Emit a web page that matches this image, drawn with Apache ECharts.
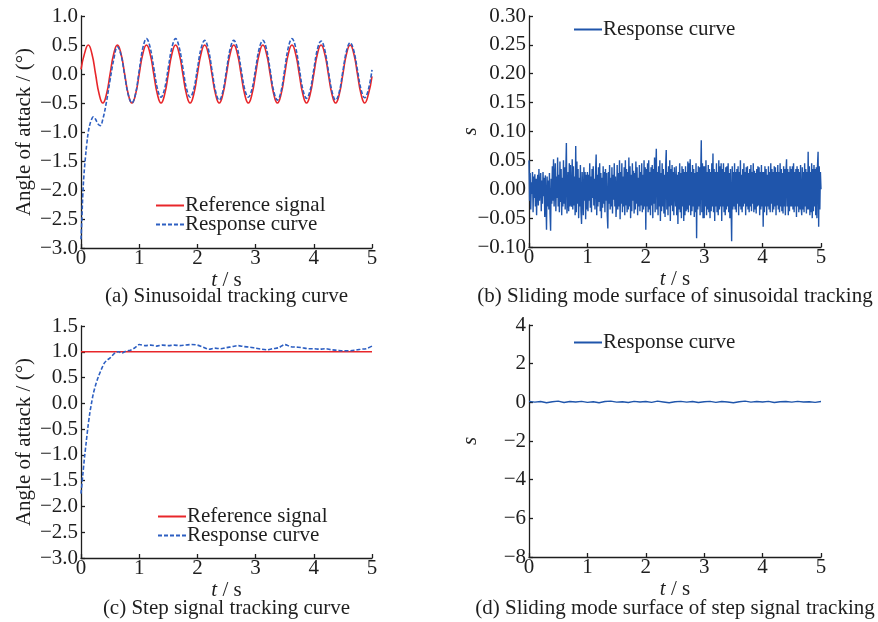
<!DOCTYPE html>
<html>
<head>
<meta charset="utf-8">
<script src="https://cdn.jsdelivr.net/npm/echarts@6/dist/echarts.min.js"></script>
<style>
  html, body { margin: 0; padding: 0; background: #fff; }
  #chart { width: 878px; height: 622px; }
</style>
</head>
<body>
<div id="chart"></div>
<script>
// ---- tick labels and captions ----
const xTicks = [0, 1, 2, 3, 4, 5];
const captions = [
  '(a) Sinusoidal tracking curve',
  '(b) Sliding mode surface of sinusoidal tracking',
  '(c) Step signal tracking curve',
  '(d) Sliding mode surface of step signal tracking'
];

// ---- (a) sinusoidal tracking: reference, sampled every 1/16 s ----
const sinRefStep = 0.0625;
const sinRef = [
  0.08, 0.36, 0.5, 0.35, 0, -0.35, -0.5, -0.35,
  0, 0.35, 0.5, 0.35, 0, -0.35, -0.5, -0.35,
  0, 0.35, 0.5, 0.35, 0, -0.35, -0.5, -0.35,
  0, 0.35, 0.5, 0.35, 0, -0.35, -0.5, -0.35,
  0, 0.35, 0.5, 0.35, 0, -0.35, -0.5, -0.35,
  0, 0.35, 0.5, 0.35, 0, -0.35, -0.5, -0.35,
  0, 0.35, 0.5, 0.35, 0, -0.35, -0.5, -0.35,
  0, 0.35, 0.5, 0.35, 0, -0.35, -0.5, -0.35,
  0, 0.35, 0.5, 0.35, 0, -0.35, -0.5, -0.35,
  0, 0.35, 0.5, 0.35, 0, -0.35, -0.5, -0.35,
  -0.04
];

// ---- (a) sinusoidal tracking: response ----
const sinRespT = [
  0, 0.015, 0.03, 0.05, 0.075, 0.1, 0.125, 0.15, 0.175, 0.21, 0.25, 0.29, 0.33, 0.375,
  0.4375, 0.5, 0.5625, 0.625, 0.6875, 0.75, 0.8125, 0.875, 0.9375,
  1.0, 1.0625, 1.125, 1.1875, 1.25, 1.3125, 1.375, 1.4375,
  1.5, 1.5625, 1.625, 1.6875, 1.75, 1.8125, 1.875, 1.9375,
  2.0, 2.0625, 2.125, 2.1875, 2.25, 2.3125, 2.375, 2.4375,
  2.5, 2.5625, 2.625, 2.6875, 2.75, 2.8125, 2.875, 2.9375,
  3.0, 3.0625, 3.125, 3.1875, 3.25, 3.3125, 3.375, 3.4375,
  3.5, 3.5625, 3.625, 3.6875, 3.75, 3.8125, 3.875, 3.9375,
  4.0, 4.0625, 4.125, 4.1875, 4.25, 4.3125, 4.375, 4.4375,
  4.5, 4.5625, 4.625, 4.6875, 4.75, 4.8125, 4.875, 4.9375, 5.0
];
const sinResp = [
  -2.85, -2.5, -2.1, -1.75, -1.45, -1.2, -1.0, -0.88, -0.8, -0.74, -0.78, -0.86, -0.89, -0.78,
  -0.48, -0.1, 0.25, 0.47, 0.33, -0.02, -0.36, -0.5, -0.34,
  0.06, 0.45, 0.61, 0.46, 0.11, -0.25, -0.40, -0.25,
  0.11, 0.46, 0.61, 0.46, 0.11, -0.25, -0.40, -0.26,
  0.09, 0.44, 0.58, 0.43, 0.07, -0.30, -0.45, -0.30,
  0.07, 0.43, 0.58, 0.44, 0.09, -0.26, -0.40, -0.26,
  0.09, 0.44, 0.58, 0.43, 0.07, -0.30, -0.45, -0.30,
  0.08, 0.46, 0.61, 0.46, 0.10, -0.27, -0.42, -0.28,
  0.08, 0.43, 0.57, 0.42, 0.06, -0.30, -0.45, -0.31,
  0.05, 0.40, 0.54, 0.40, 0.07, -0.27, -0.41, -0.27, 0.07
];

// ---- (b) sliding surface during sinusoidal tracking ----
// values in thousandths, one sample every 0.01 s
const sinSlideStep = 0.01;
const sinSlideUnit = 0.001;
const sinSlide = [
  50,-20,28,-35,12,-8,30,-40,22,-15, 26,-30,18,-45,10,25,-28,35,-20,5,
  28,-38,15,-25,30,-12,20,-48,24,-18, -70,22,-30,15,-35,28,-42,-72,18,-25,
  40,-20,52,-30,15,45,-38,22,-15,55,
  -30,25,-40,48,-22,35,-45,20,-30,50, -25,38,-35,28,80,-42,-20,30,-38,45,
  -30,42,-25,-30,52,-35,40,-28,22,-45, 75,-40,48,-25,35,-50,20,-30,42,-38,
  -60,30,28,-45,38,-20,30,-52,25,-35,
  30,-38,25,-20,45,-32,22,-40,35,-15, 40,-28,18,-35,30,60,-45,25,-30,38,
  -22,45,-38,28,-50,20,-32,40,-25,30, -40,35,-20,28,-45,-68,30,-25,42,-35,
  20,-30,38,-42,25,-18,45,-30,22,-48,
  -20,42,-35,28,-30,50,-52,30,-25,45, -40,22,-30,38,-45,50,-28,35,-40,30,
  -35,55,-30,40,-50,25,-38,45,-20,32, -42,28,-35,48,-25,38,-45,20,-30,42,
  -38,30,-28,45,-40,25,-35,50,-30,38,
  -70,35,-30,45,-40,50,-35,30,-45,38, -28,42,-50,35,-25,55,-40,30,70,-35,
  30,-45,40,-30,50,-55,28,-38,45,-30, 35,-42,25,-48,40,68,-35,30,-45,40,
  -30,50,-55,35,-28,42,-38,30,-45,38,
  35,-30,40,-45,25,-60,30,-35,45,-40, 28,-50,40,-30,35,-55,30,-45,40,-38,
  30,-35,48,-40,45,-28,52,-45,30,-38, 42,-30,35,-48,28,-40,45,-85,30,-35,
  40,-30,38,-45,25,85,-40,45,-50,40,
  -50,40,-30,50,-45,30,-35,42,-40,35, -50,30,-38,45,-30,62,-40,35,-55,30,
  -30,45,-40,30,-45,50,-35,40,-30,45, -55,35,-30,45,-40,30,-45,38,-35,40,
  -30,45,-40,28,-50,35,-30,-90,40,-35,
  30,-30,45,-35,30,-40,35,-25,40,-45, 30,-30,50,-35,25,-40,35,-30,45,-25,
  30,-45,38,-30,40,-35,28,-40,35,-30, 42,-38,30,-25,45,-40,32,-35,28,-42,
  35,-30,40,-28,38,-45,30,-35,42,-30,
  30,-65,30,-40,40,-30,35,-45,25,-30, 40,-35,30,-40,45,-25,35,-40,30,-35,
  40,-30,38,-45,30,-28,42,-35,30,-40, 45,-30,35,-38,28,-42,40,-30,35,-45,
  30,52,-30,35,-45,30,-38,40,-30,35,
  -30,40,-35,45,-40,30,-30,35,-48,40, -30,35,-40,30,-35,42,-30,-45,38,-35,
  30,-40,45,-30,35,-42,30,-35,65,-35, 40,-45,30,-40,45,-50,35,-38,42,-30,
  35,-45,38,-50,40,65,-65,40,-35,30,
  0
];

// ---- (c) step tracking ----
const stepRefT = [0, 5];
const stepRef = [1.0, 1.0];
const stepRespT = [
  0, 0.03, 0.06, 0.09, 0.12, 0.15, 0.18, 0.21, 0.25, 0.3, 0.35, 0.4, 0.45, 0.5, 0.55,
  0.6, 0.65, 0.7, 0.75, 0.8, 0.85, 0.9, 0.95,
  1.0, 1.1, 1.2, 1.3, 1.4, 1.5, 1.6, 1.7, 1.8, 1.9,
  2.0, 2.1, 2.2, 2.3, 2.4, 2.5, 2.6, 2.7, 2.8, 2.9,
  3.0, 3.1, 3.2, 3.3, 3.4, 3.5, 3.6, 3.7, 3.8, 3.9,
  4.0, 4.1, 4.2, 4.3, 4.4, 4.5, 4.6, 4.7, 4.8, 4.9, 5.0
];
const stepResp = [
  -1.75, -1.4, -1.05, -0.75, -0.45, -0.2, 0.0, 0.18, 0.35, 0.52, 0.66, 0.78, 0.84, 0.88, 0.94,
  0.99, 1.0, 0.97, 1.0, 1.02, 1.03, 1.06, 1.1,
  1.14, 1.12, 1.13, 1.11, 1.13, 1.12, 1.13, 1.12, 1.13, 1.14,
  1.13, 1.09, 1.05, 1.07, 1.06, 1.08, 1.10, 1.12, 1.10, 1.09,
  1.07, 1.05, 1.04, 1.06, 1.08, 1.14, 1.10, 1.09, 1.08, 1.06,
  1.06, 1.05, 1.06, 1.04, 1.03, 1.02, 1.02, 1.03, 1.05, 1.06, 1.11
];

// ---- (d) sliding surface during step tracking, every 0.1 s ----
const stepSlideStep = 0.1;
const stepSlide = [
  0.05, 0.01, 0.04, -0.02, 0.03, 0.06, -0.01, 0.04, 0.02, 0.05,
  0.0, 0.03, -0.02, 0.04, 0.06, 0.01, 0.03, -0.01, 0.05, 0.02,
  0.04, 0.0, 0.06, 0.02, -0.02, 0.03, 0.05, 0.01, 0.04, -0.01,
  0.03, 0.05, 0.0, 0.04, 0.02, -0.02, 0.03, 0.06, 0.01, 0.04,
  0.02, 0.05, -0.01, 0.03, 0.04, 0.01, 0.05, 0.02, 0.03, 0.0, 0.04
];

// ---- styling ----
const FONT = '"Liberation Serif", "Times New Roman", serif';
const FS = 21;
const INK = '#1e1e1e';
const RED = '#e8262a';
const BLUE_DASH = '#2d5fc2';
const BLUE = '#1f55ab';
const CLEAR = 'rgba(0,0,0,0)';

const grids = [
  { left: 81, top: 16, width: 291, height: 232 },
  { left: 529, top: 16, width: 292, height: 231 },
  { left: 81, top: 326, width: 291, height: 232 },
  { left: 529, top: 325, width: 292, height: 232 }
];

const minus = s => String(s).replace('-', '\u2212');

function xAxisFor(i) {
  return {
    type: 'value', gridIndex: i, min: xTicks[0], max: xTicks[xTicks.length - 1], interval: 1,
    name: '{i|t} / s', nameLocation: 'middle', nameGap: 19,
    nameTextStyle: { fontFamily: FONT, fontSize: FS, color: INK,
      rich: { i: { fontFamily: FONT, fontSize: FS, fontStyle: 'italic', color: INK } } },
    axisLine: { show: true, onZero: false, lineStyle: { color: INK, width: 1.3 } },
    axisTick: { show: true, inside: true, length: 4, lineStyle: { color: INK, width: 1.3 } },
    axisLabel: { fontFamily: FONT, fontSize: FS, color: INK, margin: 0 },
    splitLine: { show: false }
  };
}

function yAxisFor(i, min, max, interval, digits, name, italic, gap) {
  return {
    type: 'value', gridIndex: i, min: min, max: max, interval: interval,
    name: name, nameLocation: 'middle', nameGap: gap, nameRotate: 90, nameMoveOverlap: false,
    nameTextStyle: { fontFamily: FONT, fontSize: FS, color: INK, fontStyle: italic ? 'italic' : 'normal' },
    axisLine: { show: true, onZero: false, lineStyle: { color: INK, width: 1.3 } },
    axisTick: { show: true, inside: true, length: 4, lineStyle: { color: INK, width: 1.3 } },
    axisLabel: { fontFamily: FONT, fontSize: FS, color: INK, margin: 3,
      showMinLabel: true, showMaxLabel: true,
      formatter: v => minus(Number(v).toFixed(digits)) },
    splitLine: { show: false }
  };
}

const zip = (ts, vs) => vs.map((v, k) => [ts[k], v]);
const stepped = (step, vs, unit) => vs.map((v, k) => [+(k * step).toFixed(4), v * (unit || 1)]);

// legend keys are plain line samples: the point marker is made transparent
const legendBase = {
  orient: 'vertical', itemWidth: 28, itemHeight: 4, itemGap: -2, padding: 0,
  selectedMode: false,
  itemStyle: { color: CLEAR, borderColor: CLEAR, borderWidth: 0 },
  textStyle: { fontFamily: FONT, fontSize: FS, color: INK, padding: [0, 0, 0, -4] },
  formatter: n => (n === 'Sliding surface s' ? 'Response curve' : n)
};

const option = {
  backgroundColor: '#fff',
  animation: false,
  grid: grids,
  xAxis: [0, 1, 2, 3].map(xAxisFor),
  yAxis: [
    yAxisFor(0, -3, 1, 0.5, 1, 'Angle of attack / (°)', false, 46),
    yAxisFor(1, -0.1, 0.3, 0.05, 2, 's', true, 48),
    yAxisFor(2, -3, 1.5, 0.5, 1, 'Angle of attack / (°)', false, 46),
    yAxisFor(3, -8, 4, 2, 0, 's', true, 48)
  ],
  legend: [
    Object.assign({}, legendBase, { left: 155, top: 195, data: ['Reference signal', 'Response curve'] }),
    Object.assign({}, legendBase, { left: 573, top: 19, data: ['Sliding surface s'] }),
    Object.assign({}, legendBase, { left: 157, top: 506, data: ['Reference signal', 'Response curve'] }),
    Object.assign({}, legendBase, { left: 573, top: 332, data: ['Sliding surface s'] })
  ],
  series: [
    { name: 'Reference signal', type: 'line', xAxisIndex: 0, yAxisIndex: 0, symbol: 'none', smooth: 0.5,
      lineStyle: { color: RED, width: 1.6 }, itemStyle: { color: RED },
      data: stepped(sinRefStep, sinRef) },
    { name: 'Response curve', type: 'line', xAxisIndex: 0, yAxisIndex: 0, symbol: 'none', smooth: 0.4,
      lineStyle: { color: BLUE_DASH, width: 1.6, type: [4, 2] }, itemStyle: { color: BLUE_DASH },
      data: zip(sinRespT, sinResp) },
    { name: 'Sliding surface s', type: 'line', xAxisIndex: 1, yAxisIndex: 1, symbol: 'none',
      lineStyle: { color: BLUE, width: 1.4 }, itemStyle: { color: BLUE },
      data: stepped(sinSlideStep, sinSlide, sinSlideUnit) },
    { name: 'Reference signal', type: 'line', xAxisIndex: 2, yAxisIndex: 2, symbol: 'none',
      lineStyle: { color: RED, width: 1.6 }, itemStyle: { color: RED },
      data: zip(stepRefT, stepRef) },
    { name: 'Response curve', type: 'line', xAxisIndex: 2, yAxisIndex: 2, symbol: 'none', smooth: 0.3,
      lineStyle: { color: BLUE_DASH, width: 1.6, type: [4, 2] }, itemStyle: { color: BLUE_DASH },
      data: zip(stepRespT, stepResp) },
    { name: 'Sliding surface s', type: 'line', xAxisIndex: 3, yAxisIndex: 3, symbol: 'none',
      lineStyle: { color: BLUE, width: 1.4 }, itemStyle: { color: BLUE },
      data: stepped(stepSlideStep, stepSlide) }
  ],
  graphic: captions.map((c, i) => ({
    type: 'text',
    x: grids[i].left + grids[i].width / 2,
    y: i < 2 ? 296 : 608,
    style: { text: c, fontFamily: FONT, fontSize: FS, fill: INK, align: 'center', verticalAlign: 'middle' }
  }))
};

const chart = echarts.init(document.getElementById('chart'), null, { renderer: 'canvas' });
chart.setOption(option);
</script>
</body>
</html>
